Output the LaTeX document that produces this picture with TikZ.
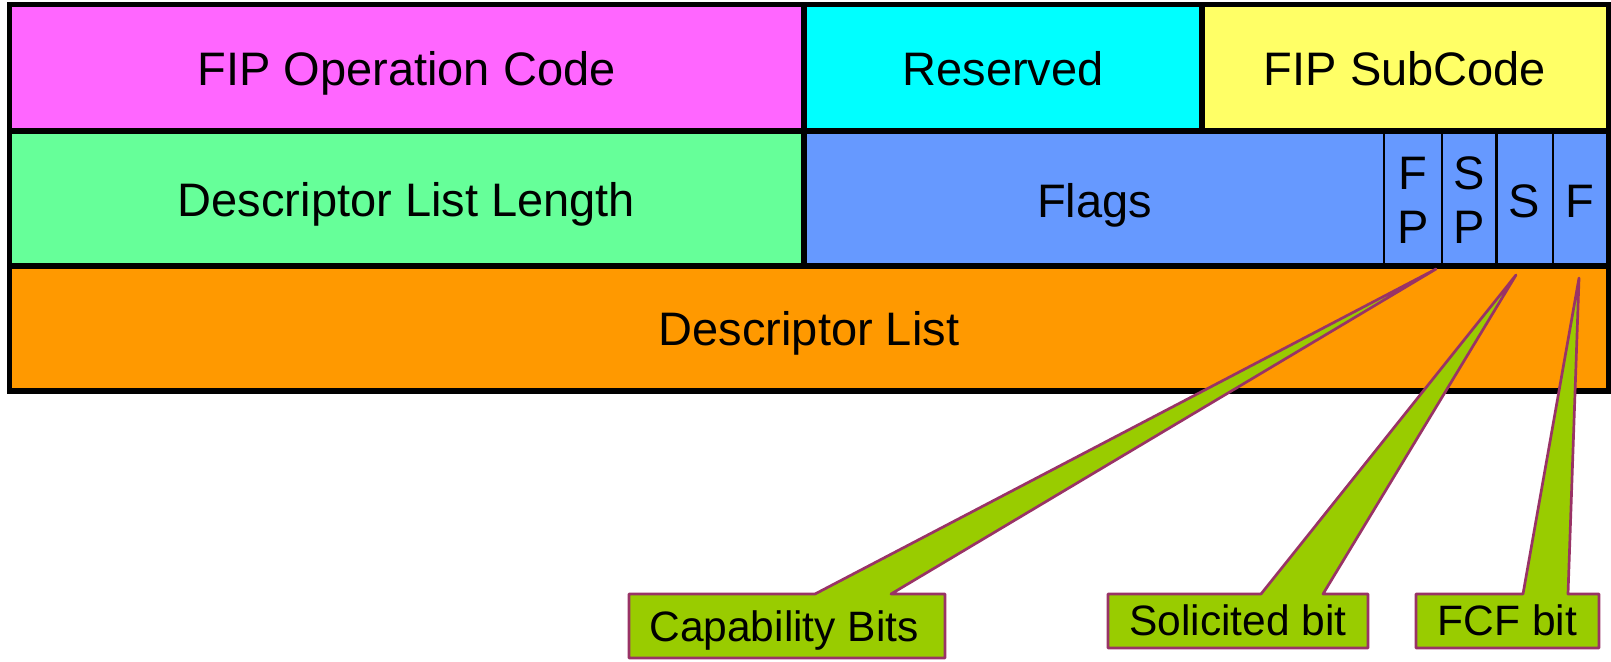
\documentclass[tikz,border=0pt]{standalone}
\usepackage{fontspec}
\setmainfont{Liberation Sans}
\definecolor{opcode}{HTML}{FF66FF}
\definecolor{resv}{HTML}{00FFFF}
\definecolor{subcode}{HTML}{FFFF66}
\definecolor{dllen}{HTML}{66FF99}
\definecolor{flagsblue}{HTML}{6699FF}
\definecolor{dlist}{HTML}{FF9900}
\definecolor{calloutfill}{HTML}{99CC00}
\definecolor{calloutedge}{HTML}{993366}
\tikzset{
  frame/.style={line width=5.6pt, black},
  bitline/.style={line width=2.6pt, black},
  field/.style={inner sep=0pt, anchor=base, font=\fontsize{47}{54}\selectfont},
  bitfield/.style={inner sep=0pt, anchor=base, font=\fontsize{47}{54}\selectfont},
  callout/.style={fill=calloutfill, draw=calloutedge, line width=2.7pt, line join=round},
  calloutlabel/.style={inner sep=0pt, anchor=base, font=\fontsize{42.5}{48}\selectfont},
}
\begin{document}
\begin{tikzpicture}[x=1pt,y=-1pt]
\useasboundingbox (0,0) rectangle (1611,661);

% field backgrounds
\fill[opcode]    (9.5,4.5)  rectangle (804,131);
\fill[resv]      (804,4.5)  rectangle (1202,131);
\fill[subcode]   (1202,4.5) rectangle (1608.5,131);
\fill[dllen]     (9.5,131)  rectangle (804,266);
\fill[flagsblue] (804,131)  rectangle (1608.5,266);
\fill[dlist]     (9.5,266)  rectangle (1608.5,391);

% grid lines
\draw[frame] (9.5,4.5) rectangle (1608.5,391);
\draw[frame] (9.5,131) -- (1608.5,131);
\draw[frame] (9.5,266) -- (1608.5,266);
\draw[frame] (804,4.5) -- (804,266);
\draw[frame] (1202,4.5) -- (1202,131);
\draw[bitline] (1384,131) -- (1384,266);
\draw[bitline] (1442,131) -- (1442,266);
\draw[bitline] (1496.5,131) -- (1496.5,266);
\draw[bitline] (1553,131) -- (1553,266);

% field labels
\node[field] (opc)   at (406.5,85)  {FIP Operation Code};
\node[field] (res)   at (1003,85)   {Reserved};
\node[field] (sub)   at (1405,85)   {FIP SubCode};
\node[field] (len)   at (406.5,216) {Descriptor List Length};
\node[field] (flags) at (1094.5,217){Flags};
\node[field] (list)  at (809,345)   {Descriptor List};

% flag bits
\node[bitfield] (fpF) at (1413,189) {F};
\node[bitfield] (fpP) at (1413,243) {P};
\node[bitfield] (spS) at (1469,189) {S};
\node[bitfield] (spP) at (1469,243) {P};
\node[bitfield] (sbit) at (1524.5,217) {S};
\node[bitfield] (fbit) at (1580,217) {F};

% callout geometry
\coordinate (capTip) at (1436,269);
\coordinate (solTip) at (1516,275);
\coordinate (fcfTip) at (1579,278);

\draw[callout] (629,658) -- (629,594) -- (815,594) -- (capTip) -- (891,594)
  -- (945,594) -- (945,658) -- cycle;
\draw[callout] (1108,648) -- (1108,594) -- (1261,594) -- (solTip) -- (1323,594)
  -- (1368,594) -- (1368,648) -- cycle;
\draw[callout] (1416,648) -- (1416,594) -- (1523,594) -- (fcfTip) -- (1568,594)
  -- (1599,594) -- (1599,648) -- cycle;

\node[calloutlabel] (cap) at (784,641) {Capability Bits};
\node[calloutlabel] (sol) at (1238,635) {Solicited bit};
\node[calloutlabel] (fcf) at (1507.5,635) {FCF bit};
\end{tikzpicture}
\end{document}
